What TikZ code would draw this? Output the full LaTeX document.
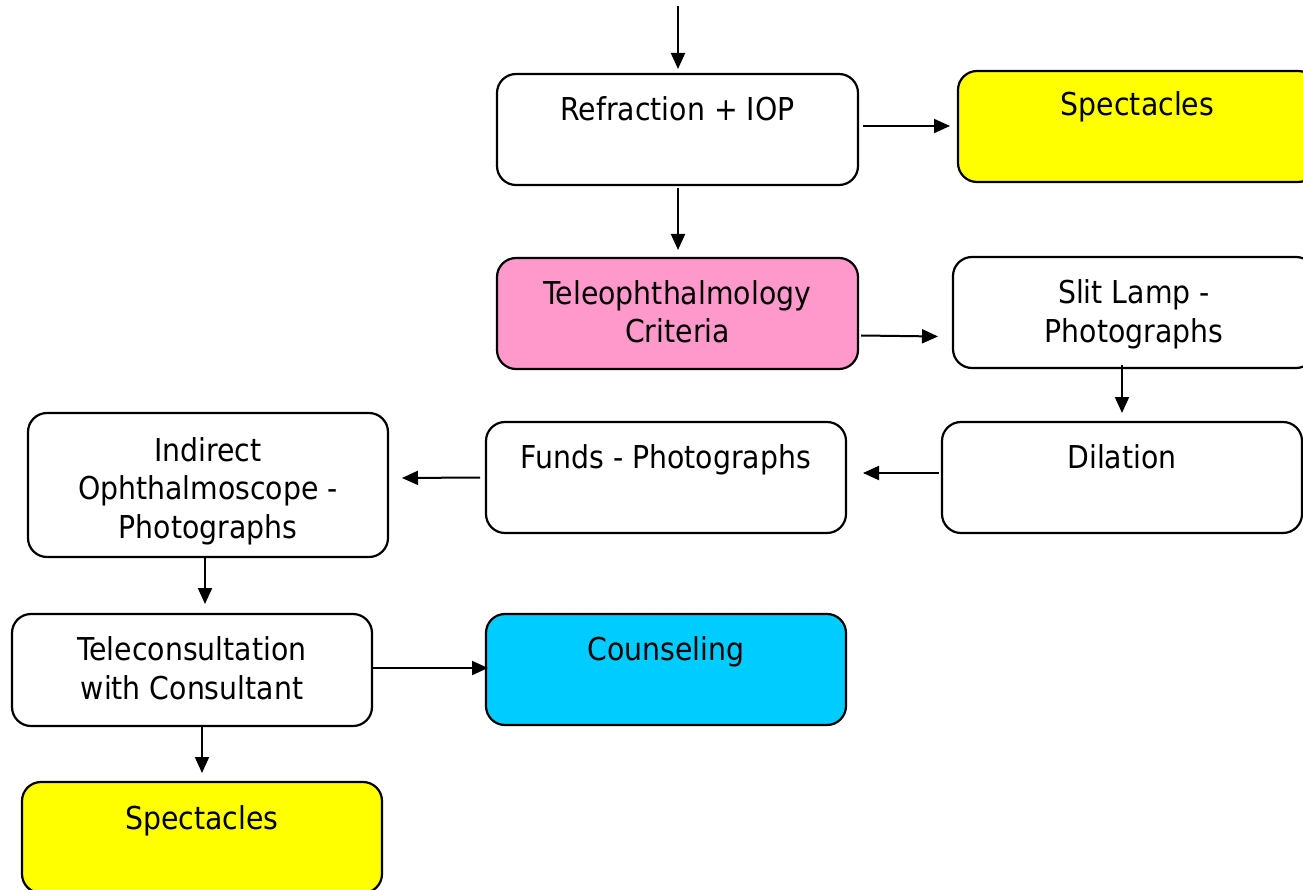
\documentclass[tikz,border=0pt]{standalone}
\usepackage{fontspec}
\setmainfont{DejaVu Sans Condensed}
\usetikzlibrary{arrows.meta}
\definecolor{specyellow}{HTML}{FFFF00}
\definecolor{telepink}{HTML}{FF99CC}
\definecolor{counselcyan}{HTML}{00CCFF}
\tikzset{
  box/.style={draw=black, line width=2.2pt, rounded corners=19pt, inner sep=0pt, outer sep=0pt},
  lbl/.style={anchor=base, align=center, inner sep=0pt, font=\fontsize{31.5}{38.5}\selectfont},
  arr/.style={line width=2pt, -{Triangle[length=16pt,width=14pt]}}
}
\begin{document}
\begin{tikzpicture}[x=1pt,y=-1pt]
\useasboundingbox (0,0) rectangle (1303,890);
\clip (0,0) rectangle (1303,890);
% boxes
\node[box, minimum width=361pt, minimum height=111pt] (A) at (677.5,129.5) {};
\node[box, fill=specyellow, minimum width=359pt, minimum height=111pt] (S1) at (1137.5,126.5) {};
\node[box, fill=telepink, minimum width=361pt, minimum height=111pt] (T) at (677.5,313.5) {};
\node[box, minimum width=362pt, minimum height=111pt] (SL) at (1134,312.5) {};
\node[box, minimum width=360pt, minimum height=111pt] (D) at (1122,477.5) {};
\node[box, minimum width=360pt, minimum height=111pt] (F) at (666,477.5) {};
\node[box, minimum width=360pt, minimum height=144pt] (I) at (208,485) {};
\node[box, minimum width=360pt, minimum height=112pt] (TC) at (192,670) {};
\node[box, fill=counselcyan, minimum width=360pt, minimum height=111pt] (C) at (666,669.5) {};
\node[box, fill=specyellow, minimum width=360pt, minimum height=111pt] (S2) at (202,837.5) {};
% texts (anchor base = baseline of the last line)
\node[lbl] (At) at (677.5,121) {Refraction + IOP};
\node[lbl] (S1t) at (1137.5,116) {Spectacles};
\node[lbl] (Tt) at (677.5,343) {Teleophthalmology\\Criteria};
\node[lbl] (SLt) at (1134,342) {Slit Lamp -\\Photographs};
\node[lbl] (Dt) at (1122,468) {Dilation};
\node[lbl] (Ft) at (666,468) {Funds - Photographs};
\node[lbl] (It) at (208,538) {Indirect\\Ophthalmoscope -\\Photographs};
\node[lbl] (TCt) at (192,699) {Teleconsultation\\with Consultant};
\node[lbl] (Ct) at (666,660) {Counseling};
\node[lbl] (S2t) at (202,829) {Spectacles};
% connectors
\coordinate (start) at (678,6);
\draw[arr] (start) -- ([xshift=0.5pt,yshift=5pt]A.north);
\draw[arr] ([xshift=5pt,yshift=3.5pt]A.east) -- ([xshift=-8pt,yshift=0.5pt]S1.west);
\draw[arr] ([xshift=0.5pt,yshift=-3pt]A.south) -- ([xshift=0.5pt,yshift=8pt]T.north);
\draw[arr] ([xshift=3pt,yshift=-22pt]T.east) -- ([xshift=-15pt,yshift=-24pt]SL.west);
\draw[arr] ([xshift=-12pt,yshift=3pt]SL.south) -- ([yshift=9pt]D.north);
\draw[arr] ([xshift=-3pt,yshift=4.5pt]D.west) -- ([xshift=17pt,yshift=4.5pt]F.east);
\draw[arr] ([xshift=-6pt]F.west) -- ([xshift=14pt,yshift=7pt]I.east);
\draw[arr] ([xshift=-3pt]I.south) -- ([xshift=13pt,yshift=10pt]TC.north);
\draw[arr] ([yshift=2pt]TC.east) -- ([xshift=2pt,yshift=1.5pt]C.west);
\draw[arr] ([xshift=10pt]TC.south) -- ([yshift=9pt]S2.north);
\end{tikzpicture}
\end{document}
